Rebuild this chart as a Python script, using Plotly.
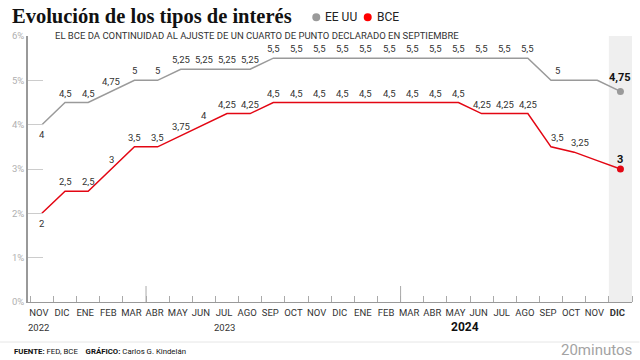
import plotly.graph_objects as go

# ---------------- data ----------------
months = ["NOV", "DIC", "ENE", "FEB", "MAR", "ABR", "MAY", "JUN", "JUL", "AGO", "SEP", "OCT",
          "NOV", "DIC", "ENE", "FEB", "MAR", "ABR", "MAY", "JUN", "JUL", "AGO", "SEP", "OCT",
          "NOV", "DIC"]
fed = [4, 4.5, 4.5, 4.75, 5, 5, 5.25, 5.25, 5.25, 5.25,
       5.5, 5.5, 5.5, 5.5, 5.5, 5.5, 5.5, 5.5, 5.5, 5.5, 5.5, 5.5,
       5, 5, 5, 4.75]
bce = [2, 2.5, 2.5, 3, 3.5, 3.5, 3.75, 4, 4.25, 4.25,
       4.5, 4.5, 4.5, 4.5, 4.5, 4.5, 4.5, 4.5, 4.5,
       4.25, 4.25, 4.25,
       3.5, 3.38, 3.19, 3]
fed_labels = ["4", "4,5", "4,5", "4,75", "5", "5", "5,25", "5,25", "5,25", "5,25"] + ["5,5"] * 12 + ["5", "", "", "4,75"]
bce_labels = ["2", "2,5", "2,5", "3", "3,5", "3,5", "3,75", "4", "4,25", "4,25"] + ["4,5"] * 9 + ["4,25"] * 3 + ["3,5", "3,25", "", "3"]
y_ticks = [0, 1, 2, 3, 4, 5, 6]
y_ticktext = ["0%", "1%", "2%", "3%", "4%", "5%", "6%"]
years = ["2022", "2023", "2024"]

# ---------------- styling / layout ----------------
W_FIG, H_FIG = 640, 360
L, R, T, B = 28, 7.5, 36, 58
PW, PH = W_FIG - L - R, H_FIG - T - B
BASE_Y = H_FIG - B

def pxx(xp):
    return (xp - L) / PW

def pxy(yp):
    return (BASE_Y - yp) / PH

GRAY = "#9a9a9a"
RED = "#e30613"
TXT = "#333333"
FONT = "Roboto"
year_idx = [0, 8, 18.4]
long_ticks = [4.5, 15.5]

x = list(range(len(months)))
fig = go.Figure()

# highlight last month column
fig.add_shape(type="rect", xref="x", yref="paper", x0=x[-1] - 0.5, x1=x[-1] + 0.5, y0=0, y1=1,
              fillcolor="#efefef", line_width=0, layer="below")

fig.add_trace(go.Scatter(x=x, y=fed, mode="lines", line=dict(color=GRAY, width=1.5), hoverinfo="skip"))
fig.add_trace(go.Scatter(x=x, y=bce, mode="lines", line=dict(color=RED, width=1.5), hoverinfo="skip"))
fig.add_trace(go.Scatter(x=[x[-1]], y=[fed[-1]], mode="markers", marker=dict(color=GRAY, size=7), hoverinfo="skip"))
fig.add_trace(go.Scatter(x=[x[-1]], y=[bce[-1]], mode="markers", marker=dict(color=RED, size=7), hoverinfo="skip"))

ann = []

def add_labels(vals, labels):
    n = len(vals)
    for i, (v, t) in enumerate(zip(vals, labels)):
        if not t:
            continue
        last = i == n - 1
        ys = 9.5
        xs = 0
        if i == 0:
            ys = -10
        if last:
            ys = 14 if v > 4 else 10
        elif i > 0 and vals[i - 1] > v and i >= n - 4:
            xs = 6
        ann.append(dict(x=i, y=v, xref="x", yref="y", text=("<b>%s</b>" % t) if last else t,
                        showarrow=False, yshift=ys, xshift=xs,
                        font=dict(family=FONT, size=11 if last else 9.5, color="#111" if last else TXT)))

add_labels(fed, fed_labels)
add_labels(bce, bce_labels)

# years
for yr, xi in zip(years, year_idx):
    bold = yr == years[-1]
    ann.append(dict(x=xi, y=pxy(327), xref="x", yref="paper", text=("<b>%s</b>" % yr) if bold else yr,
                    showarrow=False, xshift=-3, yanchor="middle",
                    font=dict(family=FONT, size=12 if bold else 9.5, color="#111" if bold else TXT)))

# subtitle
ann.append(dict(x=pxx(53), y=pxy(35.5), xref="paper", yref="paper", xanchor="left", yanchor="middle",
                text="EL BCE DA CONTINUIDAD AL AJUSTE DE UN CUARTO DE PUNTO DECLARADO EN SEPTIEMBRE",
                showarrow=False, font=dict(family=FONT, size=9.5, color=TXT)))

# legend
ann.append(dict(x=pxx(323), y=pxy(17), xref="paper", yref="paper", xanchor="left", yanchor="middle",
                text="EE UU", showarrow=False, font=dict(family=FONT, size=12, color="#222")))
ann.append(dict(x=pxx(375), y=pxy(17), xref="paper", yref="paper", xanchor="left", yanchor="middle",
                text="BCE", showarrow=False, font=dict(family=FONT, size=12, color="#222")))
for cx, col in [(316.5, GRAY), (368, "#ff0000")]:
    fig.add_shape(type="circle", xref="paper", yref="paper", xsizemode="pixel", ysizemode="pixel",
                  xanchor=pxx(cx), yanchor=pxy(17.3), x0=-4, x1=4, y0=-4, y1=4,
                  fillcolor=col, line_width=0)

# footer
ann.append(dict(x=pxx(12), y=pxy(351), xref="paper", yref="paper", xanchor="left", yanchor="middle",
                text="<b>FUENTE:</b> FED, BCE&nbsp;&nbsp;&nbsp; <b>GRÁFICO:</b> Carlos G. Kindelán",
                showarrow=False, font=dict(family=FONT, size=7.8, color="#111")))
ann.append(dict(x=pxx(635), y=pxy(350), xref="paper", yref="paper", xanchor="right", yanchor="middle",
                text="20minutos", showarrow=False, font=dict(family=FONT, size=15, color="#a3a3a3")))
fig.add_shape(type="line", xref="paper", yref="paper", x0=pxx(0), x1=pxx(640), y0=pxy(342), y1=pxy(342),
              line=dict(color="#e6e6e6", width=1))

# long ticks
for lt in long_ticks:
    fig.add_shape(type="line", xref="x", yref="paper", x0=lt, x1=lt, y0=0, y1=16 / PH,
                  line=dict(color="#aaaaaa", width=1))

ticktext = months[:-1] + ["<b>%s</b>" % months[-1]]

fig.update_layout(
    width=W_FIG, height=H_FIG,
    margin=dict(l=L, r=R, t=T, b=B),
    paper_bgcolor="white", plot_bgcolor="white",
    showlegend=False,
    annotations=ann,
    title=dict(text="<b>Evolución de los tipos de interés</b>", x=12 / W_FIG, xanchor="left",
               xref="container", y=1 - 16 / H_FIG, yanchor="middle", yref="container",
               font=dict(family="Liberation Serif", size=20.5, color="#111")),
    xaxis=dict(range=[-0.6, 25.5], tickmode="array", tickvals=x, ticktext=ticktext, ticks="",
               showline=True, linecolor="#999", linewidth=1, showgrid=False, zeroline=False,
               tickfont=dict(family=FONT, size=9.5, color=TXT), ticklabelshift=-3, ticklabelstandoff=2,
               minor=dict(tickmode="linear", tick0=0.5, dtick=1, ticks="inside", ticklen=6,
                          tickcolor="#aaaaaa", tickwidth=1, showgrid=False)),
    yaxis=dict(range=[0, 6], tickmode="array", tickvals=y_ticks, ticktext=y_ticktext, ticks="inside",
               ticklen=15, tickcolor="#cccccc", tickwidth=1, showline=True, linecolor="#999",
               linewidth=1.5, showgrid=False, zeroline=False,
               tickfont=dict(family=FONT, size=9.5, color="#b0b0b0")),
)

fig.write_html("out.html", config={"displayModeBar": False},
               post_script="document.body.style.margin='0';document.body.style.overflow='hidden';")
